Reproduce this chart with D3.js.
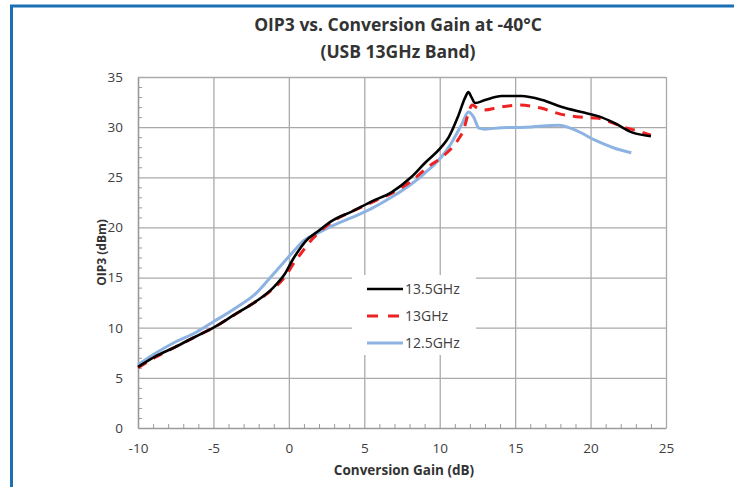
<!DOCTYPE html>
<html>
<head>
<meta charset="utf-8">
<script src="https://cdn.jsdelivr.net/npm/d3@7"></script>
<style>
  html, body { margin: 0; padding: 0; background: #fff; }
  svg { display: block; }
  text { font-family: "Open Sans", "Noto Sans", sans-serif; }
</style>
</head>
<body>
<svg id="chart" width="734" height="487"></svg>
<script>
// ---- data ----
const titleLines = ["OIP3 vs. Conversion Gain at -40°C", "(USB 13GHz Band)"];
const xLabel = "Conversion Gain (dB)";
const yLabel = "OIP3 (dBm)";
const xTicks = [-10, -5, 0, 5, 10, 15, 20, 25];
const yTicks = [0, 5, 10, 15, 20, 25, 30, 35];
const seriesNames = ["13.5GHz", "13GHz", "12.5GHz"];

const gain135 = [-10, -8.9, -7.5, -6.2, -5, -3.6, -2.2, -1.1, -0.25, 0.3, 0.7, 1.1, 2.0, 2.8, 4.2, 5.5, 6.8, 8.1, 9.0, 10.1, 10.6, 11.2, 11.7, 11.9, 12.1, 12.35, 13.0, 14.1, 15.4, 16.8, 18.1, 19.4, 20.5, 21.6, 22.7, 24.0];
const oip135  = [6.1, 7.1, 8.1, 9.1, 10.0, 11.3, 12.6, 13.9, 15.4, 16.9, 17.8, 18.6, 19.7, 20.6, 21.6, 22.6, 23.5, 25.0, 26.4, 28.0, 29.0, 31.0, 33.0, 33.5, 33.0, 32.4, 32.7, 33.1, 33.1, 32.7, 32.0, 31.5, 31.1, 30.4, 29.5, 29.1];

const gain13 = [-10, -8.9, -7.5, -6.2, -5, -3.6, -2.2, -1.1, -0.25, 0.4, 0.8, 1.3, 2.0, 2.8, 4.2, 5.5, 6.8, 8.1, 9.2, 10.3, 11.2, 11.6, 11.9, 12.15, 12.5, 12.9, 14.0, 15.3, 16.7, 18.0, 19.3, 20.4, 21.5, 22.2, 23.2, 24.0];
const oip13  = [6.0, 7.0, 8.1, 9.1, 10.0, 11.3, 12.6, 13.8, 15.1, 16.6, 17.4, 18.4, 19.5, 20.5, 21.6, 22.5, 23.4, 24.6, 26.0, 27.2, 28.7, 29.8, 31.4, 32.2, 31.9, 31.7, 32.0, 32.2, 31.9, 31.3, 31.0, 30.9, 30.4, 30.0, 29.6, 29.2];

const gain125 = [-10, -8.9, -7.5, -6.2, -5, -3.6, -2.2, -1.4, -0.7, 0.3, 1.0, 2.0, 2.8, 4.2, 5.5, 6.8, 8.1, 9.0, 10.1, 10.6, 11.5, 11.9, 12.25, 12.6, 13.0, 14.1, 15.7, 17.9, 19.0, 20.3, 21.6, 22.7];
const oip125  = [6.3, 7.4, 8.6, 9.5, 10.6, 11.9, 13.4, 14.7, 15.9, 17.6, 18.7, 19.5, 20.1, 21.0, 21.9, 23.0, 24.3, 25.4, 27.0, 28.0, 30.4, 31.5, 31.0, 29.9, 29.8, 29.95, 30.0, 30.2, 29.7, 28.7, 27.9, 27.45];

const seriesX = [gain135, gain13, gain125];
const seriesY = [oip135, oip13, oip125];
const seriesColor = ["#000000", "#ee2222", "#8db3e2"];
const seriesWidth = [2.6, 3, 3];
const seriesDash = [null, "10,8", null];

// ---- layout ----
const svg = d3.select("#chart");
const L = 138, R = 666, T = 77, B = 428;
const x = d3.scaleLinear().domain([-10, 25]).range([L, R]);
const y = d3.scaleLinear().domain([0, 35]).range([B, T]);

// frame (blue page border)
svg.append("line").attr("x1", 10).attr("x2", 734).attr("y1", 6).attr("y2", 6)
  .attr("stroke", "#1b6fb5").attr("stroke-width", 3);
svg.append("line").attr("x1", 11.5).attr("x2", 11.5).attr("y1", 5).attr("y2", 487)
  .attr("stroke", "#1b6fb5").attr("stroke-width", 3);

// grid
const gridColor = "#aaaaaa";
svg.append("g").attr("transform", `translate(0,${B})`)
  .call(d3.axisBottom(x).tickValues(xTicks.slice(1)).tickSize(-(B - T)).tickFormat(""))
  .call(g => g.select(".domain").remove())
  .call(g => g.selectAll("line").attr("stroke", gridColor).attr("stroke-width", 1.3));
svg.append("g").attr("transform", `translate(${L},0)`)
  .call(d3.axisLeft(y).tickValues(yTicks.slice(1)).tickSize(-(R - L)).tickFormat(""))
  .call(g => g.select(".domain").remove())
  .call(g => g.selectAll("line").attr("stroke", gridColor).attr("stroke-width", 1.3));

// minor ticks (inside)
const minorX = d3.range(-10, 26).filter(v => v % 5 !== 0);
const minorY = d3.range(0, 36).filter(v => v % 5 !== 0);
svg.append("g").attr("transform", `translate(0,${B})`)
  .call(d3.axisBottom(x).tickValues(minorX).tickSize(-4).tickFormat(""))
  .call(g => g.select(".domain").remove())
  .call(g => g.selectAll("line").attr("stroke", "#999").attr("stroke-width", 1));
svg.append("g").attr("transform", `translate(${L},0)`)
  .call(d3.axisLeft(y).tickValues(minorY).tickSize(-4).tickFormat(""))
  .call(g => g.select(".domain").remove())
  .call(g => g.selectAll("line").attr("stroke", "#999").attr("stroke-width", 1));

// axis lines + labels
const xAxis = svg.append("g").attr("transform", `translate(0,${B})`)
  .call(d3.axisBottom(x).tickValues(xTicks).tickSize(0).tickPadding(15).tickFormat(d => String(d)));
xAxis.select(".domain").attr("stroke", "#9a9a9a").attr("stroke-width", 1.6);
xAxis.selectAll("text").attr("font-size", 13.5).attr("fill", "#404040")
  .attr("font-family", "'Open Sans', sans-serif");

const yAxis = svg.append("g").attr("transform", `translate(${L},0)`)
  .call(d3.axisLeft(y).tickValues(yTicks).tickSize(0).tickPadding(15).tickFormat(d => String(d)));
yAxis.select(".domain").attr("stroke", "#9a9a9a").attr("stroke-width", 1.6);
yAxis.selectAll("text").attr("font-size", 13.5).attr("fill", "#404040")
  .attr("font-family", "'Open Sans', sans-serif");

// series
const line = d3.line().curve(d3.curveMonotoneX).x(d => x(d[0])).y(d => y(d[1]));
[2, 1, 0].forEach(i => {
  const pts = seriesX[i].map((v, k) => [v, seriesY[i][k]]);
  svg.append("path").datum(pts)
    .attr("d", line)
    .attr("fill", "none")
    .attr("stroke", seriesColor[i])
    .attr("stroke-width", seriesWidth[i])
    .attr("stroke-dasharray", seriesDash[i])
    .attr("stroke-linejoin", "round");
});

// legend
const lg = svg.append("g");
lg.append("rect").attr("x", 352).attr("y", 275).attr("width", 124).attr("height", 80).attr("fill", "#fff");
const rowsY = [289, 316, 343];
seriesNames.forEach((name, i) => {
  lg.append("line").attr("x1", 367).attr("x2", 403).attr("y1", rowsY[i]).attr("y2", rowsY[i])
    .attr("stroke", seriesColor[i]).attr("stroke-width", seriesWidth[i])
    .attr("stroke-dasharray", i === 1 ? "11,10" : null);
  lg.append("text").attr("x", 405).attr("y", rowsY[i]).attr("dy", "0.35em")
    .attr("font-size", 14).attr("fill", "#404040").text(name);
});

// titles
titleLines.forEach((t, i) => {
  svg.append("text").attr("x", 398).attr("y", 31 + i * 27)
    .attr("text-anchor", "middle").attr("font-size", 17.5).attr("font-weight", 700)
    .attr("fill", "#333").text(t);
});
svg.append("text").attr("x", 404).attr("y", 475).attr("text-anchor", "middle")
  .attr("font-size", 13.5).attr("font-weight", 700).attr("fill", "#333").text(xLabel);
svg.append("text").attr("transform", `translate(106,${(T + B) / 2}) rotate(-90)`)
  .attr("text-anchor", "middle").attr("font-size", 12).attr("font-weight", 700)
  .attr("fill", "#333").text(yLabel);
</script>
</body>
</html>
